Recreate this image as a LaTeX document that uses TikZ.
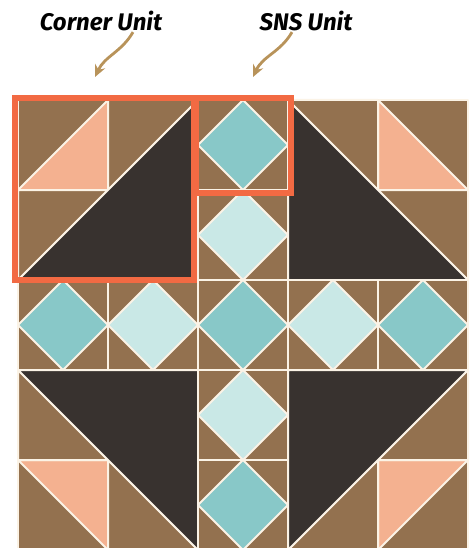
\documentclass[tikz,border=0pt]{standalone}
\usepackage{fontspec}
\newfontfamily\handfont{Fira Sans}
\usetikzlibrary{arrows.meta}
\definecolor{brownp}{HTML}{93714F}
\definecolor{darkp}{HTML}{38322F}
\definecolor{peach}{HTML}{F4B190}
\definecolor{tealp}{HTML}{88C8C8}
\definecolor{palep}{HTML}{C9E8E6}
\definecolor{seam}{HTML}{FBF3E6}
\definecolor{framered}{HTML}{F26A43}
\definecolor{pointer}{HTML}{B8935A}
\tikzset{
  patch/.style={draw=seam, line width=2pt, line join=round},
  unitframe/.style={draw=framered, line width=6pt},
  pointerline/.style={draw=pointer, line width=2.8pt, -{Stealth[length=12pt,width=11pt]}},
  lbl/.style={font=\handfont\bfseries\itshape\fontsize{24}{28}\selectfont, inner sep=1pt}
}
\begin{document}
\begin{tikzpicture}[x=1pt,y=-1pt]
\useasboundingbox (0,0) rectangle (470,548);
\clip (0,0) rectangle (470,548);
\fill[brownp] (18,100) rectangle (468,550);

\draw[patch,fill=brownp] (18,100) rectangle (108,190);
\draw[patch,fill=peach] (18,190) -- (108,190) -- (108,100) -- cycle;
\draw[patch,fill=brownp] (108,100) -- (198,100) -- (108,190) -- cycle;
\draw[patch,fill=brownp] (18,190) -- (108,190) -- (18,280) -- cycle;
\draw[patch,fill=darkp] (18,280) -- (198,100) -- (198,280) -- cycle;

\draw[patch,fill=brownp] (378,100) rectangle (468,190);
\draw[patch,fill=peach] (468,190) -- (378,190) -- (378,100) -- cycle;
\draw[patch,fill=brownp] (378,100) -- (288,100) -- (378,190) -- cycle;
\draw[patch,fill=brownp] (468,190) -- (378,190) -- (468,280) -- cycle;
\draw[patch,fill=darkp] (468,280) -- (288,100) -- (288,280) -- cycle;

\draw[patch,fill=brownp] (18,460) rectangle (108,550);
\draw[patch,fill=peach] (18,460) -- (108,460) -- (108,550) -- cycle;
\draw[patch,fill=brownp] (108,550) -- (198,550) -- (108,460) -- cycle;
\draw[patch,fill=brownp] (18,460) -- (108,460) -- (18,370) -- cycle;
\draw[patch,fill=darkp] (18,370) -- (198,550) -- (198,370) -- cycle;

\draw[patch,fill=brownp] (378,460) rectangle (468,550);
\draw[patch,fill=peach] (468,460) -- (378,460) -- (378,550) -- cycle;
\draw[patch,fill=brownp] (378,550) -- (288,550) -- (378,460) -- cycle;
\draw[patch,fill=brownp] (468,460) -- (378,460) -- (468,370) -- cycle;
\draw[patch,fill=darkp] (468,370) -- (288,550) -- (288,370) -- cycle;

\foreach \cx/\cy/\c in {243/145/tealp, 243/235/palep, 63/325/tealp, 153/325/palep,
    243/325/tealp, 333/325/palep, 423/325/tealp, 243/415/palep, 243/505/tealp} {
  \draw[patch,fill=brownp] (\cx-45,\cy-45) rectangle (\cx+45,\cy+45);
  \draw[patch,fill=\c] (\cx,\cy-45) -- (\cx+45,\cy) -- (\cx,\cy+45) -- (\cx-45,\cy) -- cycle;
}

\draw[unitframe] (15,98) rectangle (194,280);
\draw[unitframe] (196,98) rectangle (291,193);

\node[lbl] (cornerlbl) at (101,21) {Corner Unit};
\node[lbl] (snslbl) at (306,21) {SNS Unit};
\coordinate (cornertip) at (95,77);
\coordinate (snstip) at (253,77);

\draw[pointerline] ([xshift=32pt]cornerlbl.south) to[out=-120,in=65] (cornertip);
\draw[pointerline] ([xshift=-14pt]snslbl.south) to[out=-120,in=65] (snstip);
\end{tikzpicture}
\end{document}
